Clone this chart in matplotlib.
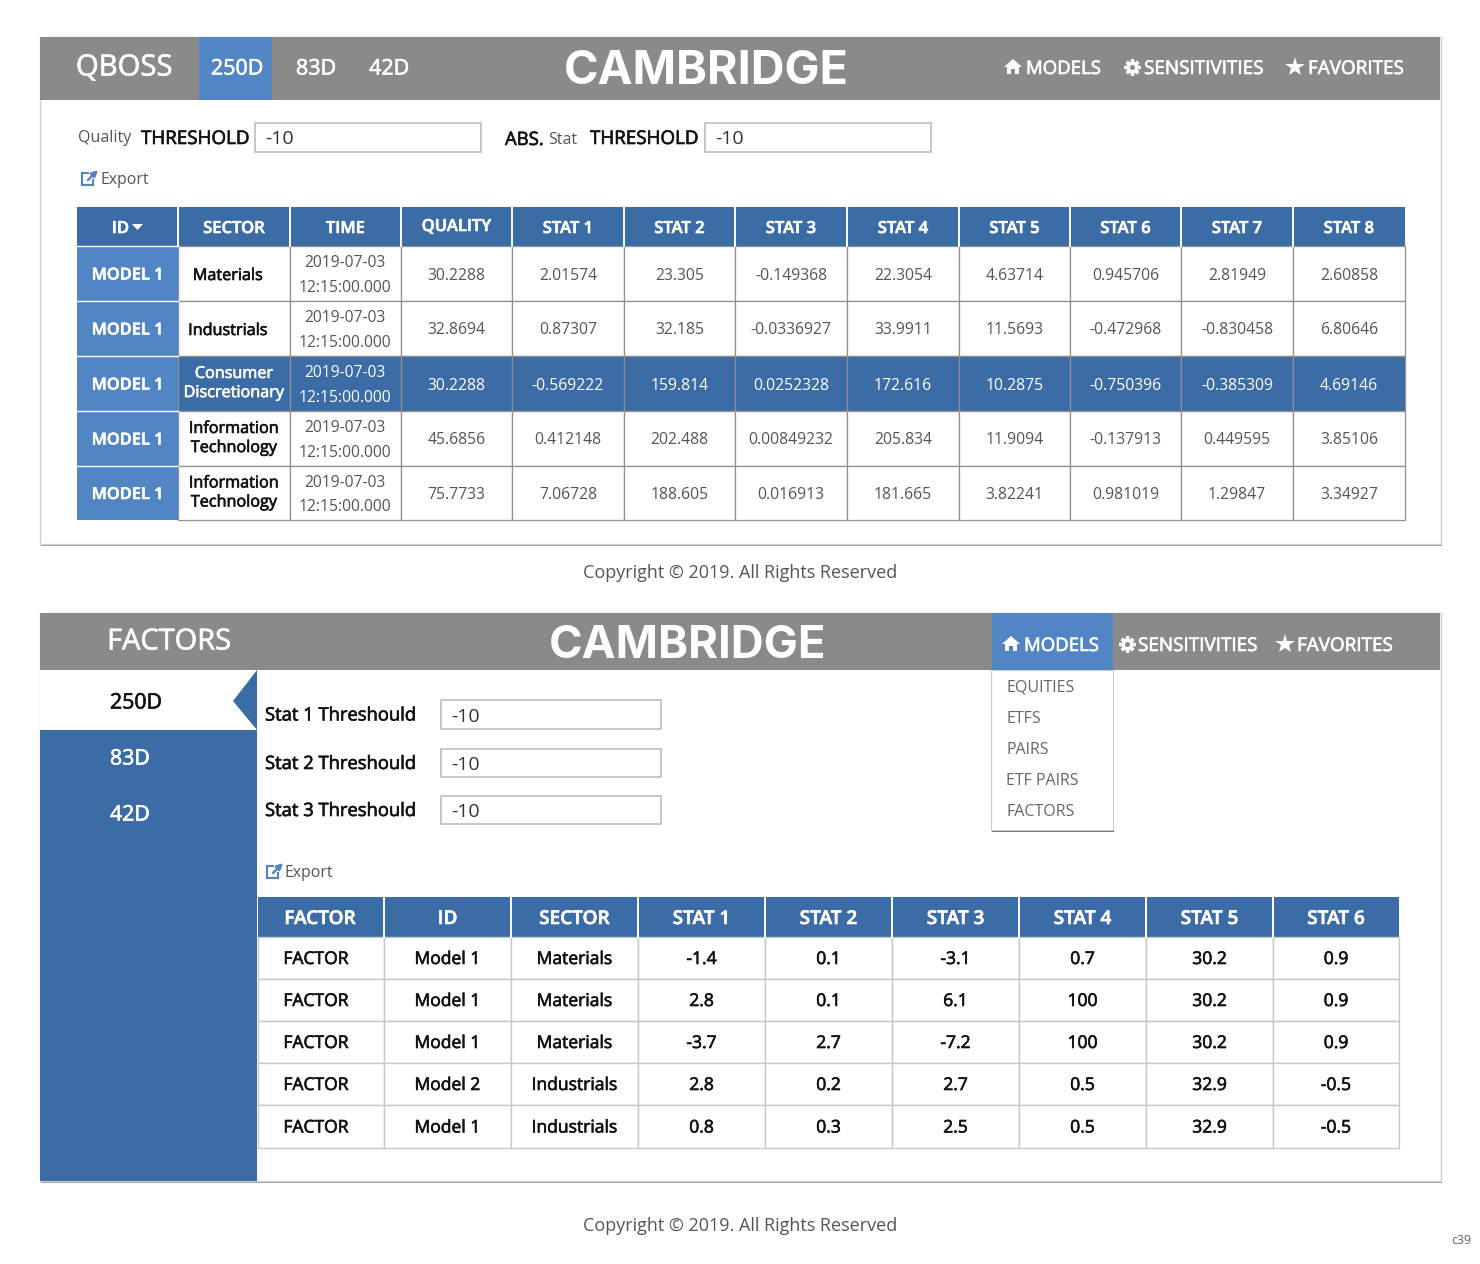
# Two dashboard screens: model table and factor table
import matplotlib
matplotlib.use("Agg")
import matplotlib.pyplot as plt
from matplotlib.patches import Rectangle, Polygon
import matplotlib.patheffects as pe

plt.rcParams['font.family'] = ['Open Sans', 'DejaVu Sans']

GREY = '#8a8a8a'
BLUE = '#3b6ca6'
LIGHT = '#5185c3'
LINE = '#c8c8c8'
DARK = '#111111'
SOFT = '#555555'

# top table
top_cols = ['ID', 'SECTOR', 'TIME', 'QUALITY', 'STAT 1', 'STAT 2', 'STAT 3', 'STAT 4', 'STAT 5', 'STAT 6', 'STAT 7', 'STAT 8']
top_ids = ['MODEL 1', 'MODEL 1', 'MODEL 1', 'MODEL 1', 'MODEL 1']
top_sectors = ['Materials', 'Industrials', 'Consumer\nDiscretionary', 'Information\nTechnology', 'Information\nTechnology']
top_time = '2019-07-03\n12:15:00.000'
top_rows = [
    ['30.2288', '2.01574', '23.305', '-0.149368', '22.3054', '4.63714', '0.945706', '2.81949', '2.60858'],
    ['32.8694', '0.87307', '32.185', '-0.0336927', '33.9911', '11.5693', '-0.472968', '-0.830458', '6.80646'],
    ['30.2288', '-0.569222', '159.814', '0.0252328', '172.616', '10.2875', '-0.750396', '-0.385309', '4.69146'],
    ['45.6856', '0.412148', '202.488', '0.00849232', '205.834', '11.9094', '-0.137913', '0.449595', '3.85106'],
    ['75.7733', '7.06728', '188.605', '0.016913', '181.665', '3.82241', '0.981019', '1.29847', '3.34927'],
]
top_x = [77, 178, 290, 401, 512, 624, 735, 847, 959, 1070, 1181, 1293, 1405]
top_y = [207, 246, 301, 356, 411, 466, 520]
highlight_row = 2

# bottom table
bot_cols = ['FACTOR', 'ID', 'SECTOR', 'STAT 1', 'STAT 2', 'STAT 3', 'STAT 4', 'STAT 5', 'STAT 6']
bot_rows = [
    ['FACTOR', 'Model 1', 'Materials', '-1.4', '0.1', '-3.1', '0.7', '30.2', '0.9'],
    ['FACTOR', 'Model 1', 'Materials', '2.8', '0.1', '6.1', '100', '30.2', '0.9'],
    ['FACTOR', 'Model 1', 'Materials', '-3.7', '2.7', '-7.2', '100', '30.2', '0.9'],
    ['FACTOR', 'Model 2', 'Industrials', '2.8', '0.2', '2.7', '0.5', '32.9', '-0.5'],
    ['FACTOR', 'Model 1', 'Industrials', '0.8', '0.3', '2.5', '0.5', '32.9', '-0.5'],
]
bot_x = [258, 384, 511, 638, 765, 892, 1019, 1146, 1273, 1399]
bot_y = [897, 937, 979, 1021, 1063, 1105, 1148]

menu_items = ['EQUITIES', 'ETFS', 'PAIRS', 'ETF PAIRS', 'FACTORS']
stat_labels = ['Stat 1 Threshould', 'Stat 2 Threshould', 'Stat 3 Threshould']
side_tabs = ['83D', '42D']

fig = plt.figure(figsize=(14.8, 12.64), dpi=100)
ax = fig.add_axes([0, 0, 1, 1])
ax.set_xlim(0, 1480)
ax.set_ylim(1264, 0)
ax.axis('off')


def box(x0, y0, x1, y1, fc='white', ec='none', lw=1, z=1):
    ax.add_patch(Rectangle((x0, y0), x1 - x0, y1 - y0, fc=fc, ec=ec, lw=lw, zorder=z))


def px(x, y, s, size, color=DARK, ha='left', weight='normal', medium=False, **kw):
    # size is in css pixels, 0.72pt each at 100 dpi; y values below are 4px above the drawn text
    t = ax.text(x, y + 4, s, fontsize=size * 0.72, color=color, ha=ha, va='center', weight=weight, zorder=5, **kw)
    if medium:
        # no medium face gets picked, thicken the regular one a little
        t.set_path_effects([pe.withStroke(linewidth=0.45, foreground=color)])


def home_icon(x, y):
    ax.add_patch(Polygon([(x - 9, y), (x, y - 8), (x + 9, y), (x + 6, y), (x + 6, y + 7), (x + 2, y + 7),
                          (x + 2, y + 2), (x - 2, y + 2), (x - 2, y + 7), (x - 6, y + 7), (x - 6, y)],
                         fc='white', ec='none', zorder=5))


def gear_icon(x, y, bg):
    ax.plot([x], [y], marker=(8, 2, 0), ms=11.5, mew=2.4, color='white', zorder=5)
    ax.plot([x], [y], marker='o', ms=8.5, color='white', mew=0, zorder=5)
    ax.plot([x], [y], marker='o', ms=3.6, color=bg, mew=0, zorder=6)


def star_icon(x, y):
    ax.plot([x], [y], marker='*', ms=14.5, color='white', mew=0, zorder=5)


def export_link(x, y, tx):
    box(x, y - 3, x + 11, y + 9, fc='none', ec=LIGHT, lw=1.5, z=4)
    box(x + 7, y - 6, x + 16, y + 3, fc='white', z=4)
    ax.annotate('', xy=(x + 16, y - 6), xytext=(x + 6, y + 4), zorder=5,
                arrowprops=dict(arrowstyle='-|>', color=LIGHT, lw=1.7, mutation_scale=9, shrinkA=0, shrinkB=0))
    px(tx, y, 'Export', 15.9, color=SOFT)


def input_box(x0, y0, x1, y1, text='-10'):
    box(x0, y0, x1, y1, ec='#bdbdbd', lw=1.2, z=2)
    px(x0 + 10, (y0 + y1) / 2 - 2, text, 19.5, color='#333333')


# panels
for y0, y1 in [(37, 544), (613, 1181)]:
    box(41, y0 + 2, 1442, y1 + 2, fc='#9a9a9a', z=0)
    box(39.5, y0, 1440.5, y1, ec='#cfcfcf', lw=1, z=1)

# top header
box(40, 37, 1440, 100, fc=GREY, z=2)
box(199, 37, 272, 100, fc=LIGHT, z=3)
px(124, 64, 'QBOSS', 29.3, color='white', ha='center', medium=True)
px(237, 65, '250D', 21.5, color='white', ha='center', medium=True)
px(316, 65, '83D', 21.5, color='white', ha='center', medium=True)
px(389, 65, '42D', 21.5, color='white', ha='center', medium=True)
px(706, 68, 'CAMBRIDGE', 46.7, color='white', ha='center', weight='bold', family=['Inter', 'DejaVu Sans'])
home_icon(1013, 67)
px(1026, 65, 'MODELS', 18.6, color='white', medium=True)
gear_icon(1132, 67, GREY)
px(1144, 65, 'SENSITIVITIES', 18.9, color='white', medium=True)
star_icon(1295, 67)
px(1308, 65, 'FAVORITES', 18.9, color='white', medium=True)

# top filters
px(78, 134, 'Quality', 16, color=SOFT)
px(141, 135, 'THRESHOLD', 18.8, medium=True)
input_box(255, 123, 481, 152)
px(505, 136, 'ABS.', 18.5, medium=True)
px(548, 136, 'Stat', 16, color=SOFT)
px(590, 135, 'THRESHOLD', 18.8, medium=True)
input_box(705, 123, 931, 152)
export_link(82, 176, 101)

# top table header
for i, col in enumerate(top_cols):
    box(top_x[i], top_y[0], top_x[i + 1], top_y[1], fc=BLUE, z=2)
    if i == 0:
        px((top_x[0] + top_x[1]) / 2 - 7, 225, col, 16.6, color='white', ha='center', weight=600, medium=True)
        ax.add_patch(Polygon([(132, 224), (143, 224), (137.5, 230)], fc='white', ec='none', zorder=5))
    else:
        cy = 223 if col == 'QUALITY' else 225
        px((top_x[i] + top_x[i + 1]) / 2, cy, col, 16.6, color='white', ha='center', weight=600, medium=True)
    if i > 0:
        ax.plot([top_x[i], top_x[i]], [top_y[0], top_y[1]], color='white', lw=1.4, zorder=4)

# top table body
for r, row in enumerate(top_rows):
    y0, y1 = top_y[r + 1], top_y[r + 2]
    cy = (y0 + y1) / 2 - 2
    hi = r == highlight_row
    fill = BLUE if hi else 'white'
    box(top_x[0], y0, top_x[1], y1, fc=LIGHT, z=3)
    ax.plot([top_x[0], top_x[1]], [y0, y0], color='white', lw=1, zorder=4)
    px((top_x[0] + top_x[1]) / 2, cy, top_ids[r], 16.4, color='white', ha='center', weight=600, medium=True)
    box(top_x[1], y0, top_x[2], y1, fc=fill, ec='#8f8f8f', lw=0.9, z=2)
    single = r in (0, 1)
    sx = (top_x[1] + top_x[2]) / 2 - (6 if single else 0)
    px(sx, cy + (0.5 if single else -2), top_sectors[r], 16.2, color='white' if hi else DARK, ha='center', medium=True, linespacing=1.26)
    box(top_x[2], y0, top_x[3], y1, fc=fill, ec='#8f8f8f', lw=0.9, z=2)
    px((top_x[2] + top_x[3]) / 2 - 1, cy, top_time, 15.6, color='white' if hi else SOFT, ha='center', linespacing=1.72)
    for c, val in enumerate(row):
        x0, x1 = top_x[c + 3], top_x[c + 4]
        box(x0, y0, x1, y1, fc=fill, ec='#8f8f8f', lw=0.9, z=2)
        px((x0 + x1) / 2, cy, val, 15.7, color='white' if hi else SOFT, ha='center')

px(740, 569, 'Copyright \u00a9 2019. All Rights Reserved', 18, color=SOFT, ha='center')

# bottom header
box(40, 613, 1440, 670, fc=GREY, z=2)
box(992, 613, 1113, 670, fc=LIGHT, z=3)
px(169, 638, 'FACTORS', 29, color='white', ha='center', medium=True)
px(688, 642, 'CAMBRIDGE', 45.5, color='white', ha='center', weight='bold', family=['Inter', 'DejaVu Sans'])
home_icon(1011, 644)
px(1024, 642, 'MODELS', 18.6, color='white', medium=True)
gear_icon(1127, 644, GREY)
px(1138, 642, 'SENSITIVITIES', 18.9, color='white', medium=True)
star_icon(1285, 644)
px(1297, 642, 'FAVORITES', 18.9, color='white', medium=True)

# sidebar
box(40, 670, 257, 1181, fc=BLUE, z=2)
box(40, 670, 257, 730, fc='white', z=3)
ax.add_patch(Polygon([(257, 670), (233, 701), (257, 730)], fc=BLUE, ec='none', zorder=4))
px(110, 699, '250D', 21.3, medium=True)
for label, y in zip(side_tabs, [755, 811]):
    px(110, y, label, 21.3, color='white', medium=True)

# dropdown menu
box(992, 672, 1114, 832, fc='#777777', z=2)
box(991, 670, 1113, 830, ec='#cccccc', lw=0.8, z=3)
for label, y in zip(menu_items, [684, 715, 746, 777, 808]):
    px(1006, y, label, 16, color='#666666')

# bottom filters
for label, y0, y1 in zip(stat_labels, [700, 749, 796], [729, 777, 824]):
    px(265, (y0 + y1) / 2 - 3, label, 18.4, medium=True)
    input_box(441, y0, 661, y1)
export_link(267, 869, 285)

# bottom table
for i, col in enumerate(bot_cols):
    box(bot_x[i], bot_y[0], bot_x[i + 1], bot_y[1], fc=BLUE, z=2)
    px((bot_x[i] + bot_x[i + 1]) / 2 - (1 if i == 0 else 0), 915, col, 19, color='white', ha='center', weight=600, medium=True)
    if i > 0:
        ax.plot([bot_x[i], bot_x[i]], [bot_y[0], bot_y[1]], color='white', lw=1.4, zorder=4)
for r, row in enumerate(bot_rows):
    y0, y1 = bot_y[r + 1], bot_y[r + 2]
    for c, val in enumerate(row):
        x0, x1 = bot_x[c], bot_x[c + 1]
        box(x0, y0, x1, y1, ec=LINE, lw=1, z=2)
        cx = (x0 + x1) / 2
        cy = (y0 + y1) / 2 - 2
        px(316 if c == 0 else cx, cy, val, 17.5, ha='center', medium=True)

px(740, 1222, 'Copyright \u00a9 2019. All Rights Reserved', 18, color=SOFT, ha='center')
px(1471, 1236, 'c39', 12.5, color='#666666', ha='right')

fig.savefig('out.png', dpi=100, facecolor='white')
